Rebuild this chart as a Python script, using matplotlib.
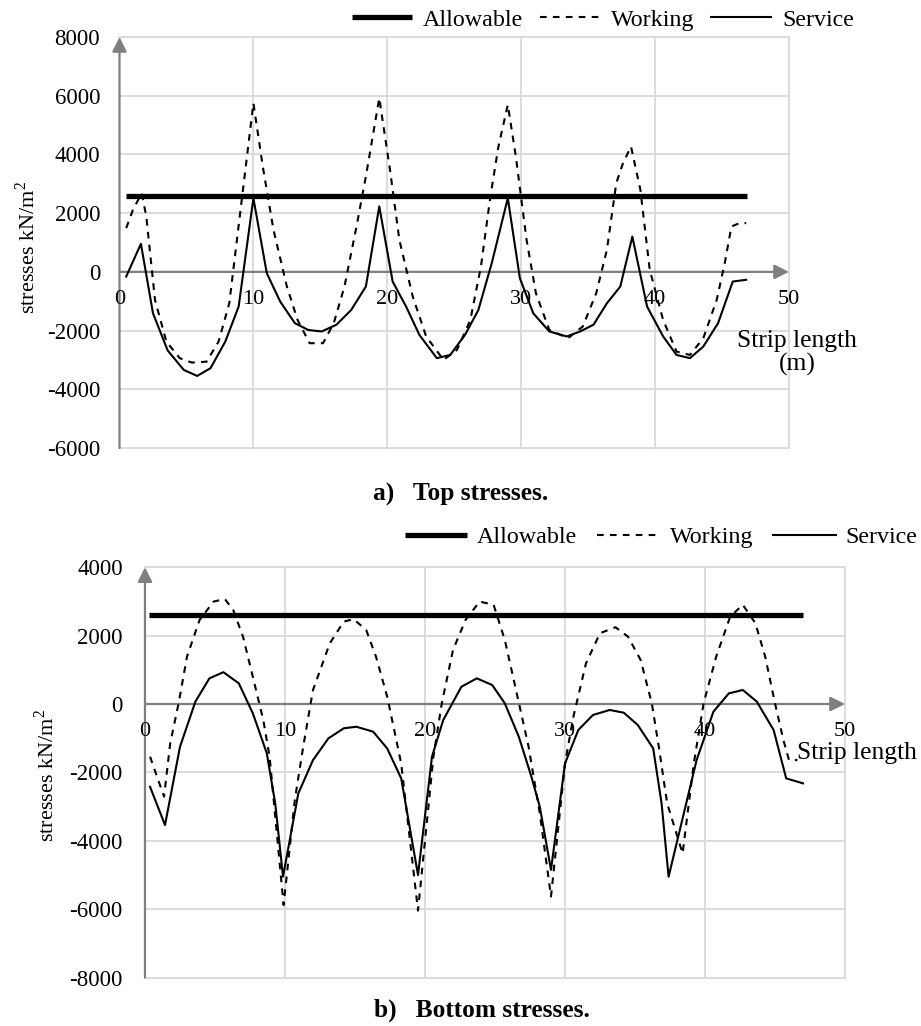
import matplotlib
matplotlib.use("Agg")
import matplotlib.pyplot as plt
from matplotlib.lines import Line2D

plt.rcParams['font.family'] = ['Liberation Serif', 'DejaVu Serif']
plt.rcParams['mathtext.fontset'] = 'custom'
plt.rcParams['mathtext.rm'] = 'Liberation Serif'

# ---------------- data ----------------
x_ticks = [0, 10, 20, 30, 40, 50]
top_y_ticks = [-6000, -4000, -2000, 0, 2000, 4000, 6000, 8000]
bot_y_ticks = [-8000, -6000, -4000, -2000, 0, 2000, 4000]

top_allow_x = [0.5, 46.9]
top_allow_y = [2600, 2600]

top_work_x = [0.5, 1.0, 1.66, 2.0, 2.65, 3.5, 4.5, 5.4, 6.5, 7.4, 8.2, 9.1, 10.0, 10.7, 11.5,
              12.5, 13.3, 14.2, 15.2, 16.0, 16.8, 17.7, 18.4, 19.4, 20.2, 20.9, 21.9, 22.9,
              24.2, 25.2, 26.2, 27.0, 27.7, 28.3, 29.0, 29.6, 30.4, 31.1, 32.1, 33.5, 34.6,
              35.6, 36.4, 37.1, 37.6, 38.2, 38.9, 39.6, 40.6, 41.6, 42.6, 43.6, 44.6, 45.2,
              45.7, 46.3, 46.8]
top_work_y = [1490, 2110, 2680, 1890, -955, -2375, -2940, -3090, -3060, -2375, -1070, 2340,
              5750, 3590, 1430, -500, -1640, -2430, -2430, -1750, -500, 1545, 3250, 5920,
              3480, 1090, -840, -2200, -3000, -2660, -1640, 200, 2570, 4270, 5690, 3930,
              1090, -730, -1980, -2260, -1860, -730, 750, 3020, 3700, 4270, 2800, 70, -1640,
              -2715, -2830, -2260, -955, 295, 1545, 1660, 1660]

top_serv_x = [0.5, 1.6, 2.5, 3.6, 4.8, 5.8, 6.8, 7.9, 8.9, 10.0, 11.0, 12.0, 13.1, 14.1,
              15.1, 16.2, 17.3, 18.4, 19.4, 20.4, 21.4, 22.4, 23.7, 24.7, 25.8, 26.8, 27.8,
              29.0, 29.9, 30.9, 32.1, 33.4, 34.4, 35.4, 36.4, 37.4, 38.3, 39.4, 40.6, 41.6,
              42.6, 43.6, 44.7, 45.8, 46.8]
top_serv_y = [-160, 955, -1410, -2680, -3340, -3545, -3280, -2375, -1180, 2510, -45, -1010,
              -1750, -1980, -2030, -1800, -1300, -500, 2230, -330, -1180, -2150, -2940,
              -2830, -2150, -1300, 295, 2510, -215, -1410, -2030, -2200, -2030, -1800,
              -1070, -500, 1200, -1180, -2200, -2830, -2940, -2545, -1750, -330, -270]

bot_allow_x = [0.3, 47.0]
bot_allow_y = [2600, 2600]

bot_work_x = [0.36, 1.36, 1.8, 2.4, 3.0, 3.9, 4.9, 5.7, 6.3, 7.0, 7.7, 8.45, 8.9, 9.9, 10.7,
              11.3, 12.0, 13.2, 14.2, 14.9, 15.8, 16.5, 17.3, 17.9, 18.3, 19.5, 20.6, 21.2,
              22.0, 22.9, 23.9, 24.9, 25.7, 26.5, 27.4, 28.2, 29.0, 30.0, 30.6, 31.5, 32.5,
              33.6, 34.5, 35.4, 36.2, 36.7, 37.3, 38.4, 39.2, 39.9, 40.8, 41.8, 42.7, 43.6,
              44.3, 45.0, 45.6, 46.0, 46.6]
bot_work_y = [-1540, -2710, -1150, 20, 1385, 2460, 2995, 3070, 2750, 1970, 800, -470, -1540,
              -5880, -2810, -1250, 410, 1775, 2410, 2480, 2165, 1385, 215, -955, -1740,
              -6040, -1540, 20, 1580, 2460, 2995, 2900, 1875, 410, -1250, -3200, -5630,
              -1740, -370, 1190, 2070, 2245, 1970, 1290, 20, -1250, -2910, -4370, -1740, 20,
              1385, 2555, 2900, 2360, 1385, 20, -1055, -1640, -1640]

bot_serv_x = [0.36, 1.43, 2.5, 3.6, 4.6, 5.6, 6.7, 7.7, 8.7, 9.3, 9.86, 10.95, 12.0, 13.1,
              14.2, 15.1, 16.3, 17.3, 18.3, 19.5, 20.5, 21.3, 22.6, 23.7, 24.8, 25.7, 26.7,
              27.6, 28.2, 29.0, 30.0, 30.95, 32.0, 33.2, 34.2, 35.2, 36.3, 36.9, 37.4, 38.6,
              39.4, 40.6, 41.7, 42.7, 43.7, 44.9, 45.8, 47.0]
bot_serv_y = [-2420, -3540, -1250, 70, 750, 930, 605, -270, -1440, -2900, -5050, -2615,
              -1640, -1005, -710, -665, -810, -1300, -2175, -5000, -1540, -470, 505, 750,
              555, 20, -955, -2125, -3005, -4850, -1740, -760, -320, -175, -255, -615, -1300,
              -2910, -5050, -3005, -1640, -225, 310, 410, 70, -760, -2175, -2320]

labels = ['Allowable', 'Working', 'Service']

# ---------------- figure ----------------
W, H = 921, 1026
fig = plt.figure(figsize=(W / 100, H / 100), dpi=100)

GRID = '#d9d9d9'
AXC = '#7f7f7f'
TICK_FS = 16.5
DASH = (0, (3.2, 3.0))
LEG_FS = 17.3


def setup(ax, yticks, ypad, xlab_off):
    for s in ax.spines.values():
        s.set_visible(False)
    ax.set_xlim(x_ticks[0], x_ticks[-1])
    ax.set_ylim(yticks[0], yticks[-1])
    for v in yticks:
        ax.axhline(v, color=GRID, lw=1.3, zorder=0, clip_on=False)
    for v in x_ticks[1:]:
        ax.axvline(v, color=GRID, lw=1.3, zorder=0, clip_on=False)
    ax.set_xticks([])
    ax.set_yticks(yticks)
    ax.set_yticklabels([str(v) for v in yticks], fontsize=TICK_FS)
    ax.tick_params(axis='y', length=0, pad=ypad)
    # axes with arrows
    ax.annotate('', xy=(0, yticks[-1]), xytext=(0, yticks[0]),
                arrowprops=dict(arrowstyle='-|>', color=AXC, lw=1.6,
                                mutation_scale=22, shrinkA=0, shrinkB=0),
                zorder=1, annotation_clip=False)
    ax.annotate('', xy=(x_ticks[-1], 0), xytext=(x_ticks[0], 0),
                arrowprops=dict(arrowstyle='-|>', color=AXC, lw=1.6,
                                mutation_scale=22, shrinkA=0, shrinkB=0),
                zorder=1, annotation_clip=False)
    for v in x_ticks:
        ax.annotate(str(v), xy=(v, 0), xytext=(0, xlab_off), textcoords='offset pixels',
                    ha='center', va='center', fontsize=16, zorder=1,
                    annotation_clip=False)


# top axes
ax1 = fig.add_axes([119.5 / W, 1 - 448 / H, 669.5 / W, 411 / H])
setup(ax1, top_y_ticks, 14, -28)
ax1.plot(top_allow_x, top_allow_y, color='black', lw=3.8, solid_capstyle='butt', zorder=3)
ax1.plot(top_work_x, top_work_y, color='black', lw=1.5, linestyle=DASH, zorder=3)
ax1.plot(top_serv_x, top_serv_y, color='black', lw=1.5, zorder=3)
fig.text(797 / W, 1 - 353 / H, 'Strip length\n(m)', ha='center', va='center',
         fontsize=18.4, linespacing=1.0)
fig.text(28 / W, 1 - 247 / H, 'stresses kN/m$^2$', rotation=90, ha='center', va='center',
         fontsize=16)
fig.text(373 / W, 1 - 494 / H, 'a)   Top stresses.', ha='left', va='center',
         fontsize=18.3, fontweight='bold')

# bottom axes
ax2 = fig.add_axes([145 / W, 1 - 977.6 / H, 700 / W, 410.4 / H])
setup(ax2, bot_y_ticks, 16, -28)
ax2.plot(bot_allow_x, bot_allow_y, color='black', lw=3.8, solid_capstyle='butt', zorder=3)
ax2.plot(bot_work_x, bot_work_y, color='black', lw=1.5, linestyle=DASH, zorder=3)
ax2.plot(bot_serv_x, bot_serv_y, color='black', lw=1.5, zorder=3)
fig.text(797 / W, 1 - 753 / H, 'Strip length', ha='left', va='center', fontsize=18.4)
fig.text(46 / W, 1 - 775 / H, 'stresses kN/m$^2$', rotation=90, ha='center', va='center',
         fontsize=16)
fig.text(374 / W, 1 - 1010 / H, 'b)   Bottom stresses.', ha='left', va='center',
         fontsize=18.3, fontweight='bold')

handles = [Line2D([], [], color='black', lw=3.8, solid_capstyle='butt'),
           Line2D([], [], color='black', lw=1.5, linestyle=DASH),
           Line2D([], [], color='black', lw=1.5)]

fig.legend(handles, labels, loc='center', bbox_to_anchor=(603 / W, 1 - 20 / H), ncol=3,
           frameon=False, fontsize=LEG_FS, handlelength=2.5, handletextpad=0.45,
           columnspacing=0.7, borderpad=0, borderaxespad=0)
fig.legend(handles, labels, loc='center', bbox_to_anchor=(661 / W, 1 - 537 / H), ncol=3,
           frameon=False, fontsize=LEG_FS, handlelength=2.6, handletextpad=0.4,
           columnspacing=0.85, borderpad=0, borderaxespad=0)

fig.savefig('out.png', dpi=100)
